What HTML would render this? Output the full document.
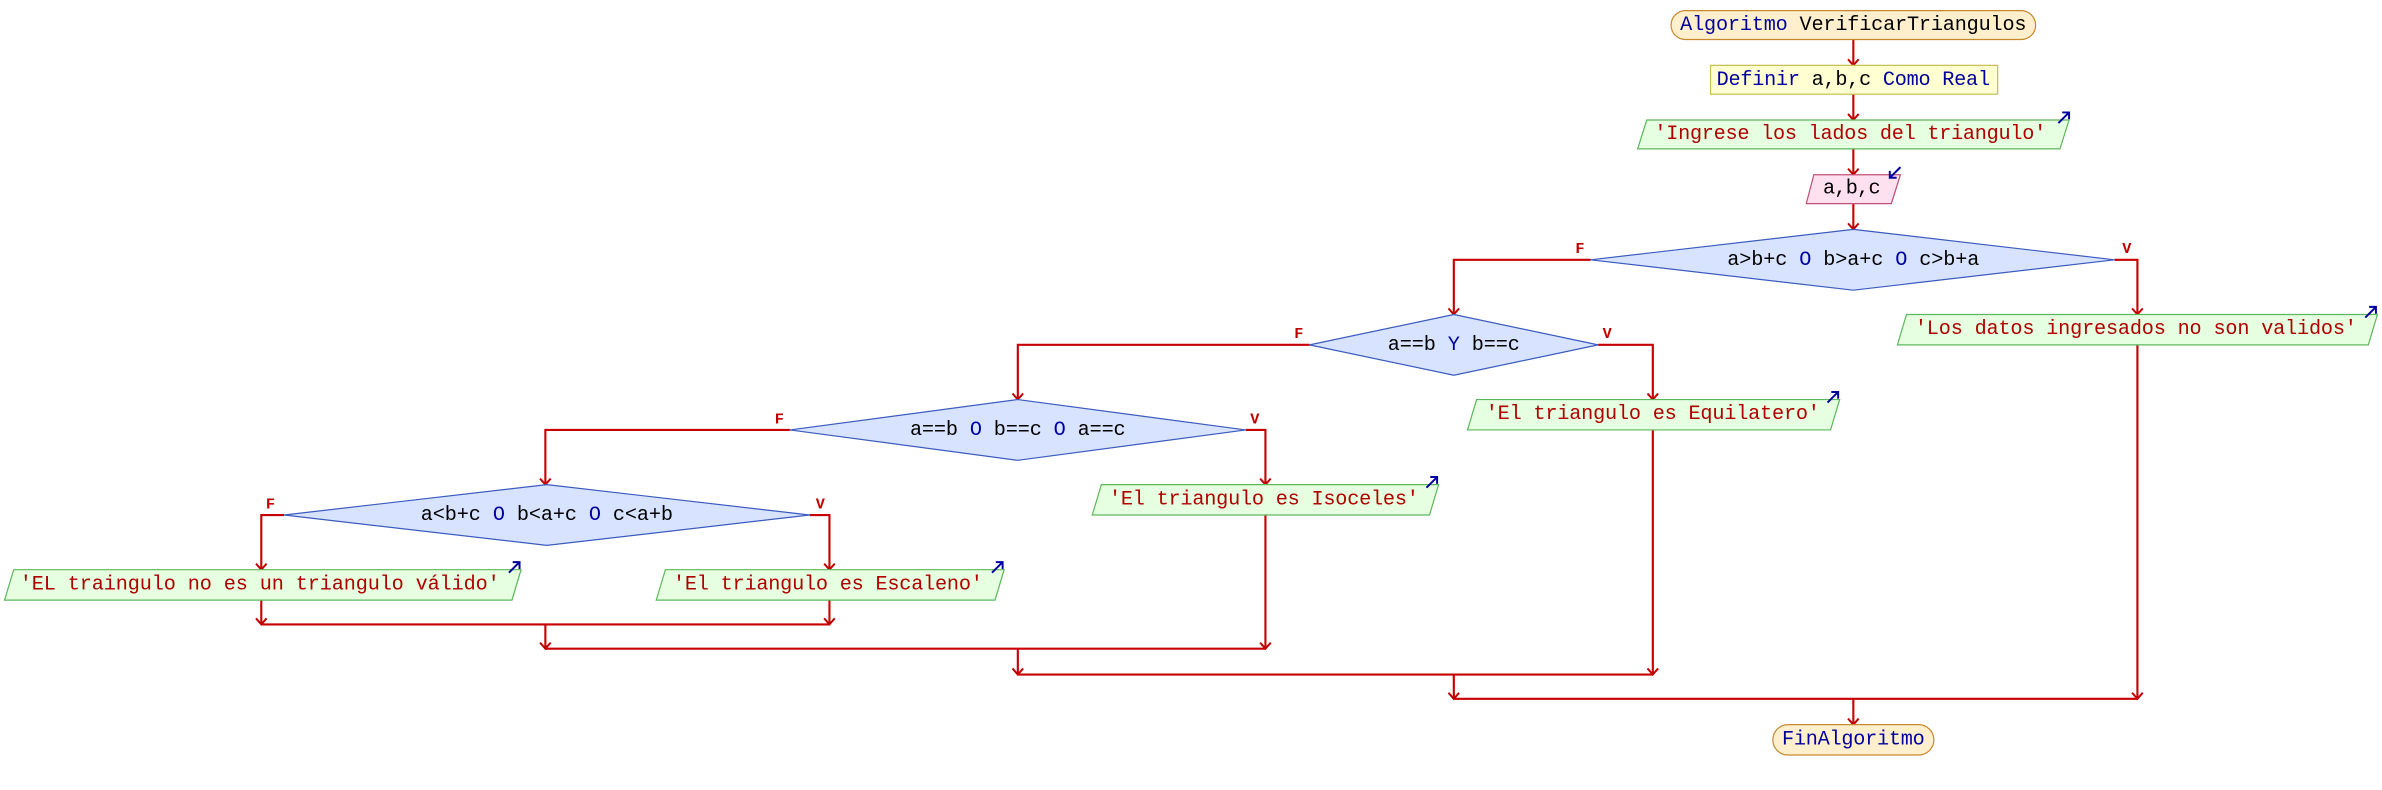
<!DOCTYPE html>
<html><head><meta charset="utf-8"><style>
html,body{margin:0;padding:0;background:#fff;}
svg{display:block}
text{font-family:"Liberation Mono","DejaVu Sans Mono",monospace;font-size:13.3px;dominant-baseline:central;}
.k{fill:#00009f}.v{fill:#000}.s{fill:#b00000}
.lbl{fill:#c00000;font-size:10px;font-weight:bold}
</style></head><body>
<svg width="2382" height="790" viewBox="0 0 1568 520" xmlns="http://www.w3.org/2000/svg">
<defs>
<marker id="ah" markerWidth="10" markerHeight="10" refX="5" refY="9" orient="0" markerUnits="userSpaceOnUse" viewBox="0 0 10 10">
<path d="M1.5,5 L5,9 L8.5,5" fill="none" stroke="#c00000" stroke-width="1.3"/>
</marker>
<g id="oi"><path d="M0,7 L7,0 M2.5,0 L7,0 L7,4.5" fill="none" stroke="#00009f" stroke-width="1.3"/></g>
<g id="ii"><path d="M7,0 L0,7 M0,2.5 L0,7 L4.5,7" fill="none" stroke="#00009f" stroke-width="1.3"/></g>
</defs>
<g fill="none" stroke="#c80000" stroke-width="1.4">
<path d="M1220,26 V43" marker-end="url(#ah)"/>
<path d="M1220,62 V79" marker-end="url(#ah)"/>
<path d="M1220,98 V115" marker-end="url(#ah)"/>
<path d="M1220,134 V151" marker-end="url(#ah)"/>
<path d="M1047,171 H957 V207" marker-end="url(#ah)"/>
<path d="M1392,171 H1407 V207" marker-end="url(#ah)"/>
<path d="M862,227 H670 V263" marker-end="url(#ah)"/>
<path d="M1052,227 H1088 V263" marker-end="url(#ah)"/>
<path d="M520,283 H359 V319" marker-end="url(#ah)"/>
<path d="M820,283 H833 V319" marker-end="url(#ah)"/>
<path d="M187,339 H172 V375" marker-end="url(#ah)"/>
<path d="M533,339 H546 V375" marker-end="url(#ah)"/>
<path d="M172,395 V411" marker-end="url(#ah)"/>
<path d="M546,395 V411" marker-end="url(#ah)"/>
<path d="M172,411 H546"/>
<path d="M359,411 V427" marker-end="url(#ah)"/>
<path d="M833,339 V427" marker-end="url(#ah)"/>
<path d="M359,427 H833"/>
<path d="M670,427 V444" marker-end="url(#ah)"/>
<path d="M1088,283 V444" marker-end="url(#ah)"/>
<path d="M670,444 H1088"/>
<path d="M957,444 V460" marker-end="url(#ah)"/>
<path d="M1407,227 V460" marker-end="url(#ah)"/>
<path d="M957,460 H1407"/>
<path d="M1220,460 V477" marker-end="url(#ah)"/>
</g>
<!-- start -->
<rect x="1100" y="7" width="240" height="19" rx="9.5" fill="#ffefcc" stroke="#c88a30" stroke-width="0.8"/>
<text x="1220" y="16.5" text-anchor="middle" textLength="228"><tspan class="k">Algoritmo</tspan><tspan class="v"> VerificarTriangulos</tspan></text>
<rect x="1126" y="43" width="189" height="19" fill="#ffffd2" stroke="#c8c050" stroke-width="0.8"/>
<text x="1220" y="52.5" text-anchor="middle" textLength="180"><tspan class="k">Definir</tspan><tspan class="v"> a,b,c </tspan><tspan class="k">Como Real</tspan></text>
<polygon points="1084,79 1362,79 1356,98 1078,98" fill="#e6ffe0" stroke="#5cb85c" stroke-width="0.8"/>
<text x="1218" y="88.5" text-anchor="middle" class="s" textLength="258">'Ingrese los lados del triangulo'</text>
<use href="#oi" x="1355" y="74"/>
<polygon points="1194,115 1251,115 1245,134 1189,134" fill="#ffe0ee" stroke="#c0507a" stroke-width="0.8"/>
<text x="1219" y="124.5" text-anchor="middle" class="v" textLength="38">a,b,c</text>
<use href="#ii" x="1244" y="110"/>
<!-- D1 -->
<polygon points="1220,151 1392,171 1220,191 1047,171" fill="#d8e4ff" stroke="#3b5bbf" stroke-width="0.8"/>
<text x="1220" y="171" text-anchor="middle" textLength="166"><tspan class="v">a&gt;b+c </tspan><tspan class="k">O</tspan><tspan class="v"> b&gt;a+c </tspan><tspan class="k">O</tspan><tspan class="v"> c&gt;b+a</tspan></text>
<text x="1040" y="164" text-anchor="middle" class="lbl">F</text>
<text x="1400" y="164" text-anchor="middle" class="lbl">V</text>
<polygon points="1255,207 1565,207 1559,227 1249,227" fill="#e6ffe0" stroke="#5cb85c" stroke-width="0.8"/>
<text x="1406" y="217" text-anchor="middle" class="s" textLength="291">'Los datos ingresados no son validos'</text>
<use href="#oi" x="1557" y="202"/>
<!-- D2 -->
<polygon points="957,207 1052,227 957,247 862,227" fill="#d8e4ff" stroke="#3b5bbf" stroke-width="0.8"/>
<text x="957" y="227" text-anchor="middle" textLength="87"><tspan class="v">a==b </tspan><tspan class="k">Y</tspan><tspan class="v"> b==c</tspan></text>
<text x="855" y="220" text-anchor="middle" class="lbl">F</text>
<text x="1058" y="220" text-anchor="middle" class="lbl">V</text>
<polygon points="972,263 1211,263 1205,283 966,283" fill="#e6ffe0" stroke="#5cb85c" stroke-width="0.8"/>
<text x="1088" y="273" text-anchor="middle" class="s" textLength="220">'El triangulo es Equilatero'</text>
<use href="#oi" x="1203" y="258"/>
<!-- D3 -->
<polygon points="670,263 820,283 670,303 520,283" fill="#d8e4ff" stroke="#3b5bbf" stroke-width="0.8"/>
<text x="670" y="283" text-anchor="middle" textLength="142"><tspan class="v">a==b </tspan><tspan class="k">O</tspan><tspan class="v"> b==c </tspan><tspan class="k">O</tspan><tspan class="v"> a==c</tspan></text>
<text x="513" y="276" text-anchor="middle" class="lbl">F</text>
<text x="826" y="276" text-anchor="middle" class="lbl">V</text>
<polygon points="725,319 947,319 941,339 719,339" fill="#e6ffe0" stroke="#5cb85c" stroke-width="0.8"/>
<text x="832" y="329" text-anchor="middle" class="s" textLength="204">'El triangulo es Isoceles'</text>
<use href="#oi" x="939" y="314"/>
<!-- D4 -->
<polygon points="360,319 533,339 360,359 187,339" fill="#d8e4ff" stroke="#3b5bbf" stroke-width="0.8"/>
<text x="360" y="339" text-anchor="middle" textLength="166"><tspan class="v">a&lt;b+c </tspan><tspan class="k">O</tspan><tspan class="v"> b&lt;a+c </tspan><tspan class="k">O</tspan><tspan class="v"> c&lt;a+b</tspan></text>
<text x="178" y="332" text-anchor="middle" class="lbl">F</text>
<text x="540" y="332" text-anchor="middle" class="lbl">V</text>
<polygon points="9,375 343,375 337,395 3,395" fill="#e6ffe0" stroke="#5cb85c" stroke-width="0.8"/>
<text x="171" y="385" text-anchor="middle" class="s" textLength="316">'EL traingulo no es un triangulo válido'</text>
<use href="#oi" x="335" y="370"/>
<polygon points="438,375 661,375 655,395 432,395" fill="#e6ffe0" stroke="#5cb85c" stroke-width="0.8"/>
<text x="545" y="385" text-anchor="middle" class="s" textLength="204">'El triangulo es Escaleno'</text>
<use href="#oi" x="653" y="370"/>
<rect x="1167" y="477" width="106" height="20" rx="10" fill="#ffefcc" stroke="#c88a30" stroke-width="0.8"/>
<text x="1220" y="487" text-anchor="middle" class="k" textLength="94">FinAlgoritmo</text>
</svg>
</body></html>
